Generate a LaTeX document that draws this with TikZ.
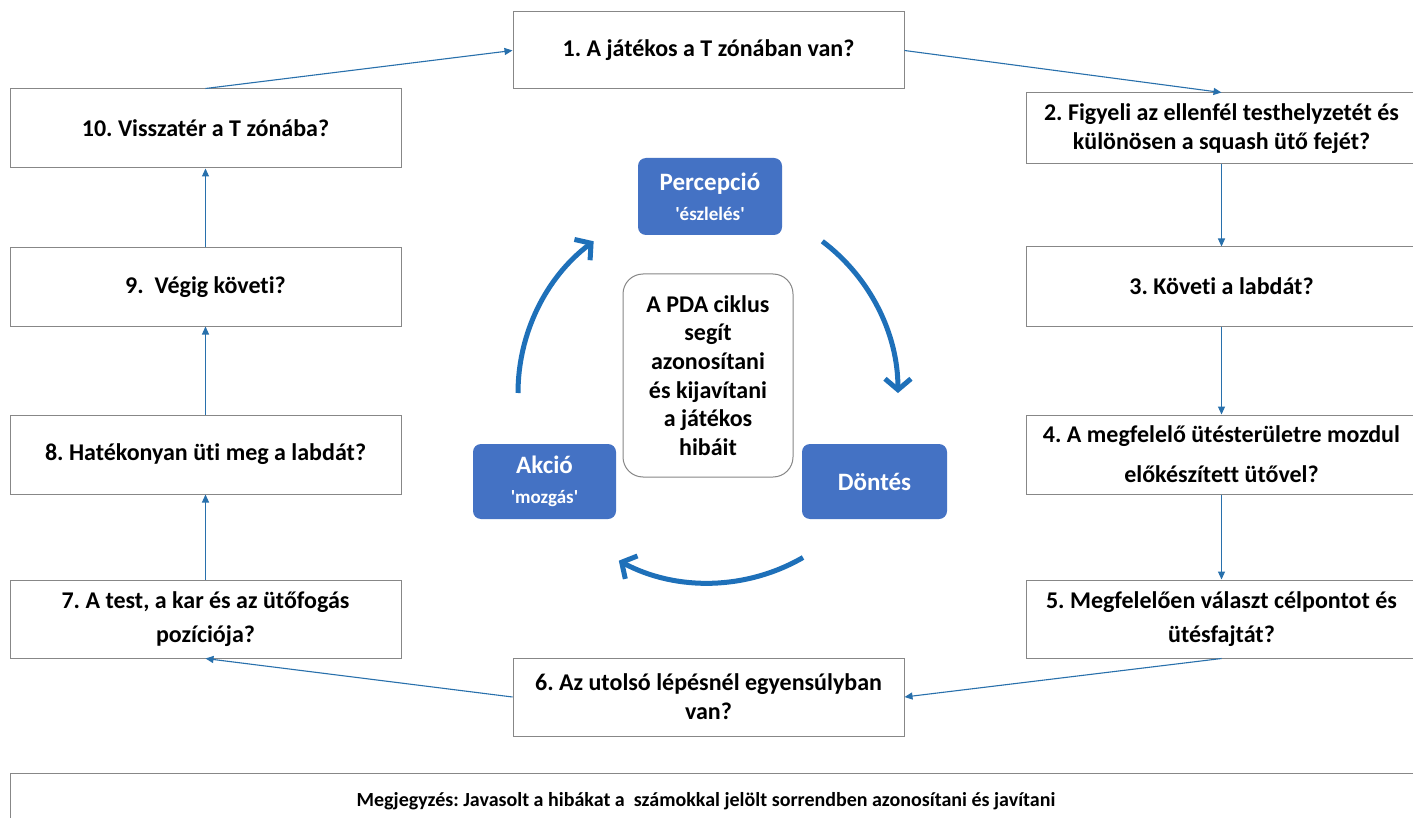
\documentclass[tikz,border=0pt]{standalone}
\usepackage{fontspec}
\setmainfont{Carlito}[Ligatures=NoCommon]
\newfontfamily\cf{Carlito}[Ligatures=NoCommon]
\usetikzlibrary{arrows.meta}
\definecolor{lineblue}{RGB}{40,112,172}
\definecolor{pdafill}{RGB}{68,114,196}
\definecolor{bigblue}{RGB}{30,112,185}
\definecolor{boxgray}{RGB}{135,135,135}
\frenchspacing
\begin{document}
\begin{tikzpicture}[x=1pt,y=-1pt,
  qbox/.style={draw=boxgray, line width=1pt, fill=white, minimum width=391pt,
    align=center, inner sep=0pt, font=\cf\bfseries\fontsize{24}{29}\selectfont},
  flow/.style={draw=lineblue, line width=1.1pt, -{Triangle[length=8pt,width=7pt]}},
  pda/.style={fill=pdafill, rounded corners=8pt, text=white, align=center,
    inner sep=0pt, font=\cf\bfseries\fontsize{25}{36}\selectfont},
  bigarc/.style={draw=bigblue, line width=5pt, -{Straight Barb[length=11pt,width=26pt]}},
  notefont/.style={font=\cf\bfseries\fontsize{20}{24}\selectfont}
]
\clip (0,0) rectangle (1413,818);
\fill[white] (0,0) rectangle (1413,818);

% question boxes
\node[qbox, minimum height=77pt] (b1) at (708.5,50.5) {1. A játékos a T zónában van?};
\node[qbox, minimum height=71pt] (b2) at (1221.5,128.5) {2. Figyeli az ellenfél testhelyzetét és\\különösen a squash ütő fejét?};
\node[qbox, minimum height=79pt] (b3) at (1221.5,286.5) {3. Követi a labdát?};
\node[qbox, minimum height=79pt, font=\cf\bfseries\fontsize{24}{40}\selectfont] (b4) at (1221.5,454.5) {4. A megfelelő ütésterületre mozdul\\előkészített ütővel?};
\node[qbox, minimum height=78pt, font=\cf\bfseries\fontsize{24}{34}\selectfont] (b5) at (1221.5,619) {5. Megfelelően választ célpontot és\\ütésfajtát?};
\node[qbox, minimum height=78pt] (b6) at (708.5,697) {6. Az utolsó lépésnél egyensúlyban\\van?};
\node[qbox, minimum height=78pt, font=\cf\bfseries\fontsize{24}{34}\selectfont] (b7) at (205.5,619) {7. A test, a kar és az ütőfogás\\pozíciója?};
\node[qbox, minimum height=79pt] (b8) at (205.5,454.5) {8. Hatékonyan üti meg a labdát?};
\node[qbox, minimum height=78pt] (b9) at (205.5,287) {9.\ \ Végig követi?};
\node[qbox, minimum height=79pt] (b10) at (205.5,128.5) {10. Visszatér a T zónába?};

% flow connectors
\draw[flow] (b10.north) -- (b1.west);
\draw[flow] (b1.east) -- (b2.north);
\draw[flow] (b2.south) -- (b3.north);
\draw[flow] (b3.south) -- (b4.north);
\draw[flow] (b4.south) -- (b5.north);
\draw[flow] (b5.south) -- (b6.east);
\draw[flow] (b6.west) -- (b7.south);
\draw[flow] (b7.north) -- (b8.south);
\draw[flow] (b8.north) -- (b9.south);
\draw[flow] (b9.north) -- (b10.south);

% PDA cycle
\node[pda, minimum width=144pt, minimum height=77pt] (perc) at (710,196.5)
  {Percepció\\[-6pt]{\fontsize{19}{22}\selectfont 'észlelés'}};
\node[pda, minimum width=143pt, minimum height=75pt] (akc) at (544.5,481.5)
  {Akció\\[-6pt]{\fontsize{19}{22}\selectfont 'mozgás'}};
\node[pda, minimum width=145pt, minimum height=75pt] (dont) at (874.5,481.5) {Döntés};
\node[draw=boxgray, line width=1pt, fill=white, rounded corners=20pt,
  minimum width=170pt, minimum height=203pt, align=center, inner sep=0pt,
  font=\cf\bfseries\fontsize{24}{28.7}\selectfont] (pdac) at (708,375.5)
  {A PDA ciklus\\segít\\azonosítani\\és kijavítani\\a játékos\\hibáit};

\draw[bigarc] (518,393) arc[start angle=-180, end angle=-127, radius=190];
\draw[bigarc] (822.3,241.3) arc[start angle=-53, end angle=0, radius=190];
\draw[bigarc] (803,557.5) arc[start angle=60, end angle=118, radius=190];

% note box
\node[draw=boxgray, line width=1pt, fill=white, minimum width=1407pt, minimum height=60pt,
  anchor=north west, inner sep=0pt] (note) at (10,773) {};
\node[notefont, anchor=center] (notetext) at (706,801)
  {Megjegyzés: Javasolt a hibákat a\ \ számokkal jelölt sorrendben azonosítani és javítani};
\end{tikzpicture}
\end{document}
